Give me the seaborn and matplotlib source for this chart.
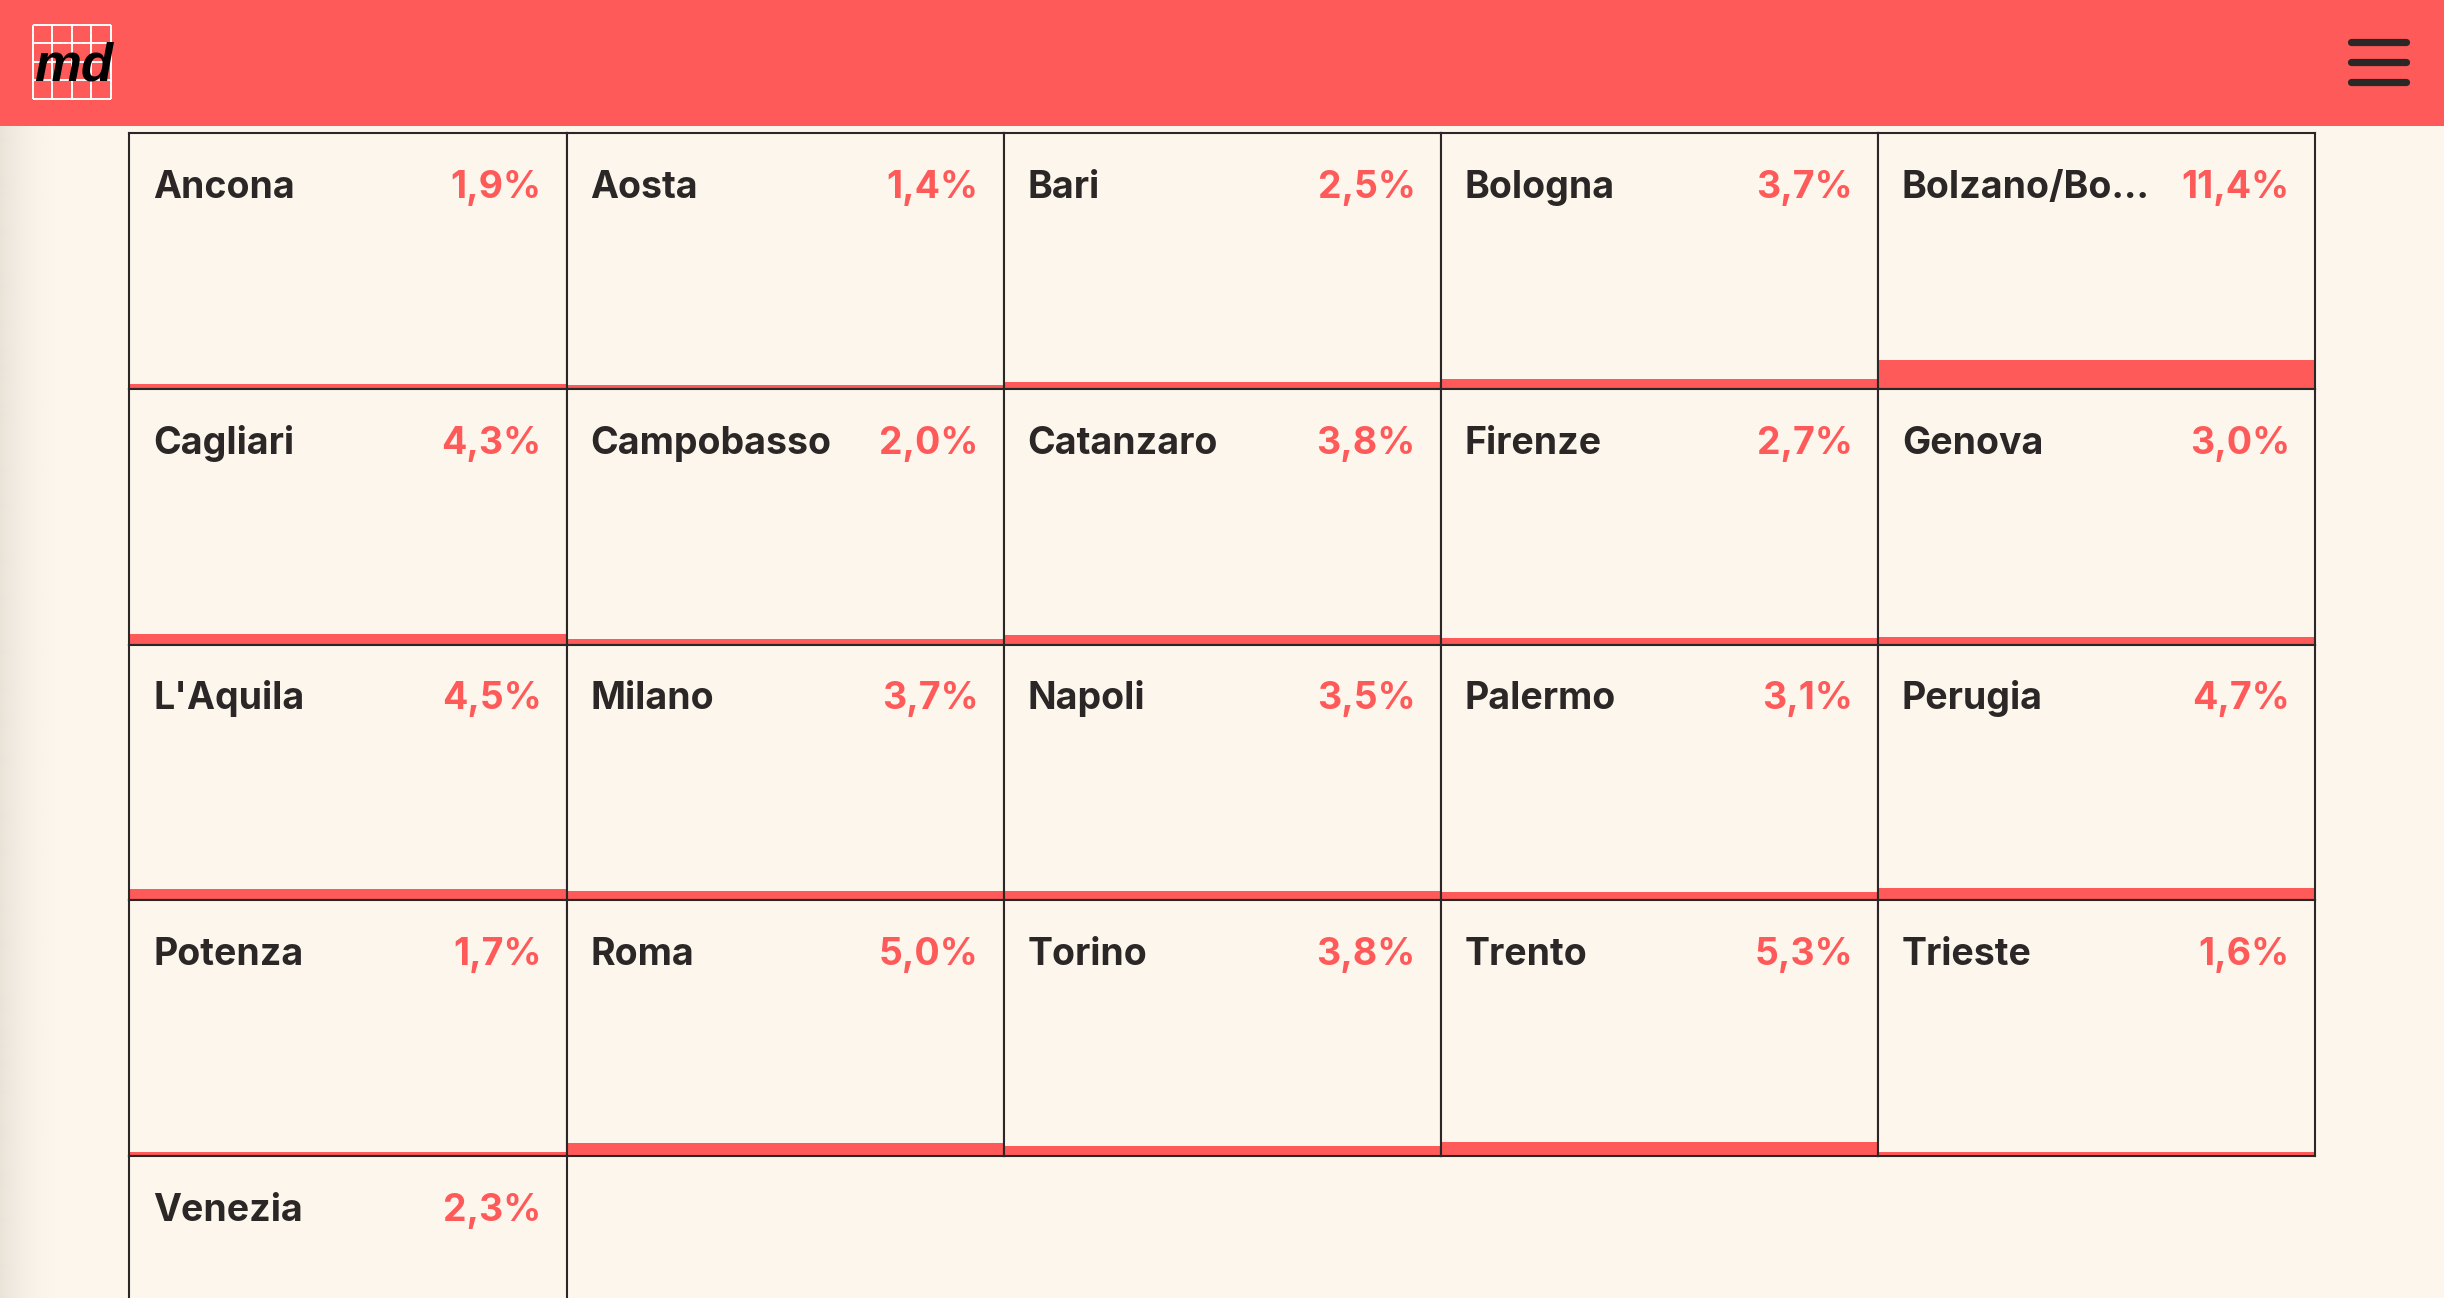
import numpy as np
import matplotlib
matplotlib.use("Agg")
import matplotlib.pyplot as plt
import seaborn as sns

# ---------------- data ----------------
cities = ["Ancona", "Aosta", "Bari", "Bologna", "Bolzano/Bozen",
          "Cagliari", "Campobasso", "Catanzaro", "Firenze", "Genova",
          "L'Aquila", "Milano", "Napoli", "Palermo", "Perugia",
          "Potenza", "Roma", "Torino", "Trento", "Trieste",
          "Venezia"]
values = [1.9, 1.4, 2.5, 3.7, 11.4,
          4.3, 2.0, 3.8, 2.7, 3.0,
          4.5, 3.7, 3.5, 3.1, 4.7,
          1.7, 5.0, 3.8, 5.3, 1.6,
          2.3]

# ---------------- style ----------------
RED = "#FF5A5A"
CREAM = "#FDF6EC"
DARK = "#2B2727"
W, H = 2444, 1298

sns.set_theme(style="white")
plt.rcParams["font.family"] = ["Inter", "DejaVu Sans"]

fig = plt.figure(figsize=(W / 100, H / 100), dpi=100)
fig.patch.set_facecolor(CREAM)

# background with left shadow
bg = fig.add_axes([0, 0, 1, 1], zorder=-10)
bg.set_xlim(0, W)
bg.set_ylim(H, 0)
bg.axis("off")
grad = np.zeros((1, 60, 4))
t = np.linspace(0, 1, 60)
grad[0, :, 0] = 0.82
grad[0, :, 1] = 0.80
grad[0, :, 2] = 0.76
grad[0, :, 3] = 0.45 * (1 - t) ** 1.8
bg.imshow(grad, extent=[0, 60, H, 126], aspect="auto", interpolation="bilinear")

# header
hdr_h = 126
hdr = fig.add_axes([0, 1 - hdr_h / H, 1, hdr_h / H], zorder=5)
hdr.set_facecolor(RED)
hdr.set_xlim(0, W)
hdr.set_ylim(hdr_h, 0)
hdr.set_xticks([])
hdr.set_yticks([])
for s in hdr.spines.values():
    s.set_visible(False)
# logo grid
xs = np.linspace(32.5, 111, 5)
ys = np.linspace(24.5, 98.8, 5)
for x in xs:
    hdr.plot([x, x], [ys[0], ys[-1]], color="white", lw=1.4, solid_capstyle="butt")
for y in ys:
    hdr.plot([xs[0], xs[-1]], [y, y], color="white", lw=1.4, solid_capstyle="butt")
hdr.text(34, 80.5, "md", color="black", fontsize=38, fontweight="bold", style="italic",
         family=["Liberation Sans Narrow", "Liberation Sans", "DejaVu Sans"],
         ha="left", va="baseline")
# hamburger
for y in (42, 62, 82):
    hdr.plot([2350.5, 2405.5], [y, y], color=DARK, lw=5.2, solid_capstyle="round")

# grid of cells
x0, y0 = 129.4, 133.0
cw, ch = 437.1, 255.75
ncol = 5
for i, (city, v) in enumerate(zip(cities, values)):
    r, c = divmod(i, ncol)
    left = x0 + c * cw
    top = y0 + r * ch
    ax = fig.add_axes([left / W, 1 - (top + ch) / H, cw / W, ch / H])
    ax.set_facecolor(CREAM)
    sns.barplot(x=[0], y=[v], width=1.0, color=RED, saturation=1, ax=ax, edgecolor="none")
    ax.set_xlim(-0.5, 0.5)
    ax.set_ylim(0, 100)
    ax.set_xticks([])
    ax.set_yticks([])
    ax.set_xlabel("")
    ax.set_ylabel("")
    for s in ax.spines.values():
        s.set_visible(True)
        s.set_color(DARK)
        s.set_linewidth(1.5)
    label = city if len(city) <= 10 else city[:10] + "…"
    ax.text(24 / cw, 1 - 65 / ch, label, transform=ax.transAxes, ha="left", va="baseline",
            fontsize=27, fontweight="bold", color=DARK)
    ax.text(1 - 25 / cw, 1 - 65 / ch, f"{v:.1f}%".replace(".", ","), transform=ax.transAxes,
            ha="right", va="baseline", fontsize=27, fontweight="bold", color=RED)

fig.savefig("out.png", dpi=100, facecolor=CREAM)
